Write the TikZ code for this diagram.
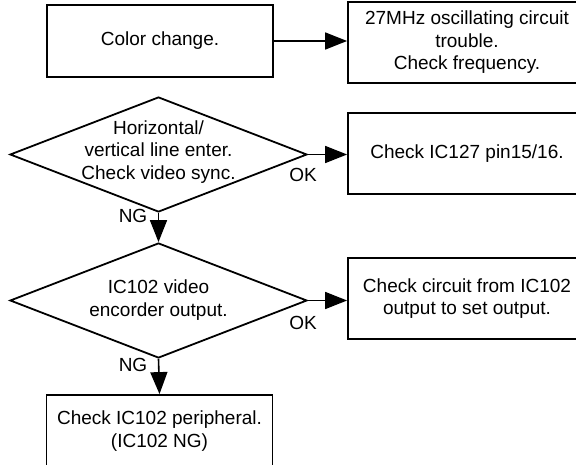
\documentclass[tikz,border=0pt]{standalone}
\usepackage{fontspec}
\setmainfont{Liberation Sans}
\usetikzlibrary{positioning,shapes.geometric,arrows.meta}

\begin{document}
\begin{tikzpicture}[x=1pt,y=-1pt,
    box/.style={draw,line width=1.8pt,minimum width=226pt,minimum height=72pt,inner sep=0pt,align=center,font=\fontsize{19}{22.5}\selectfont},
    widebox/.style={box,minimum width=238pt,minimum height=81pt},
    decision/.style={draw,diamond,line width=1.8pt,minimum width=297pt,minimum height=115pt,inner sep=0pt},
    txt/.style={inner sep=0pt,align=center,font=\fontsize{19}{22.5}\selectfont},
    go/.style={line width=1.6pt,-{Triangle[length=22pt,width=17pt]}}]
      \useasboundingbox (0,0) rectangle (576,465);
      \clip (0,0) rectangle (576,465);
      % boxes on the left
      \node[box](color) at (160,41){Color change.};
      \node[box](periph) at (159.5,431){Check IC102 peripheral.\\(IC102 NG)};
      % decisions
      \node[decision](sync) at (158.5,154.5){};
      \node[txt](synctext) at (158.5,152){Horizontal/\\vertical line enter.\\Check video sync.};
      \node[decision](enc) at (158.5,300.5){};
      \node[txt](enctext) at (158.5,300){IC102 video\\encorder output.};
      % boxes on the right
      \node[widebox](osc) at (467,42.5){27MHz oscillating circuit\\trouble.\\Check frequency.};
      \node[widebox](pin) at (467,153.5){Check IC127 pin15/16.};
      \node[widebox](circ) at (467,298.5){Check circuit from IC102\\output to set output.};
      % OK / NG marks
      \node[txt](ok1) at (303,175){OK};
      \node[txt](ok2) at (303,323){OK};
      \node[txt](ng1) at (133,216){NG};
      \node[txt](ng2) at (133,365){NG};
      % connectors
      \draw[go] (color.east) -- (color.east -| osc.west);
      \draw[go] (sync.east) -- (sync.east -| pin.west);
      \draw[go] (enc.east) -- (enc.east -| circ.west);
      \draw[go] (sync.south) -- (enc.north);
      \draw[go] (enc.south) -- (periph.north);
\end{tikzpicture}
\end{document}
